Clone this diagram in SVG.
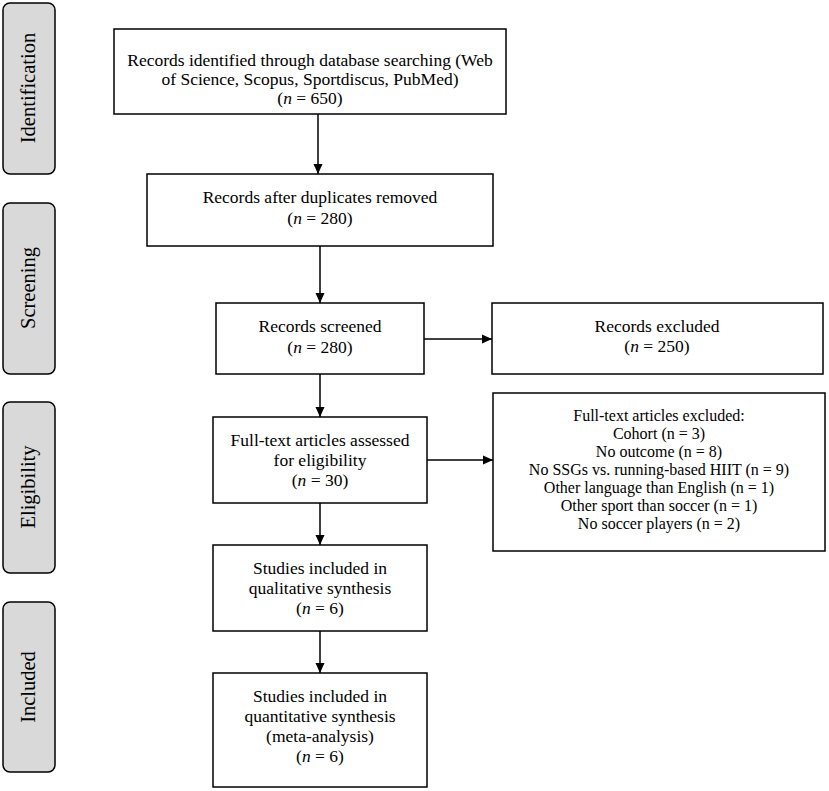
<svg xmlns="http://www.w3.org/2000/svg" width="829" height="791" viewBox="0 0 829 791">
<style>
.box{fill:#fff;stroke:#000;stroke-width:1.5}
.side{fill:#d9d9d9;stroke:#000;stroke-width:1.5}
text{font-family:"Liberation Serif","Times New Roman",serif;fill:#000;text-anchor:middle}
.t{font-size:17.5px}
.s{font-size:16px}
.lab{font-size:20.5px}
.conn line{stroke:#000;stroke-width:1.5;marker-end:url(#ah)}
</style>
<defs>
<marker id="ah" viewBox="0 0 10 10" refX="10" refY="5" markerWidth="10" markerHeight="10" markerUnits="userSpaceOnUse" orient="auto">
<path d="M0,0.5 L10,5 L0,9.5 Z" fill="#000"/>
</marker>
</defs>
<rect width="829" height="791" fill="#fff"/>
<g id="lab-identification"><rect class="side" x="3" y="3" width="52" height="171" rx="7"/><text class="lab" transform="translate(35 88) rotate(-90)">Identification</text></g>
<g id="lab-screening"><rect class="side" x="3" y="203" width="52" height="171" rx="7"/><text class="lab" transform="translate(35 288) rotate(-90)">Screening</text></g>
<g id="lab-eligibility"><rect class="side" x="3" y="402" width="52" height="171" rx="7"/><text class="lab" transform="translate(35 487) rotate(-90)">Eligibility</text></g>
<g id="lab-included"><rect class="side" x="3" y="602" width="52" height="170" rx="7"/><text class="lab" transform="translate(35 687) rotate(-90)">Included</text></g>
<g class="conn" id="connectors">
<line x1="318" y1="114" x2="318" y2="174"/>
<line x1="320" y1="246" x2="320" y2="303"/>
<line x1="320" y1="374" x2="320" y2="417"/>
<line x1="320" y1="503" x2="320" y2="545"/>
<line x1="320" y1="631" x2="320" y2="673"/>
<line x1="424" y1="339" x2="492" y2="339"/>
<line x1="427" y1="460" x2="493" y2="460"/>
</g>
<g id="n-identified"><rect class="box" x="114" y="29" width="392" height="85"/>
<text class="t" x="310" y="66">Records identified through database searching (Web</text>
<text class="t" x="310" y="85">of Science, Scopus, Sportdiscus, PubMed)</text>
<text class="t" x="310" y="104">(<tspan font-style="italic">n</tspan> = 650)</text></g>
<g id="n-dedup"><rect class="box" x="147" y="174" width="346" height="72"/>
<text class="t" x="320" y="203">Records after duplicates removed</text>
<text class="t" x="320" y="224">(<tspan font-style="italic">n</tspan> = 280)</text></g>
<g id="n-screened"><rect class="box" x="216" y="303" width="208" height="71"/>
<text class="t" x="320" y="332">Records screened</text>
<text class="t" x="320" y="353">(<tspan font-style="italic">n</tspan> = 280)</text></g>
<g id="n-excluded"><rect class="box" x="492" y="303" width="331" height="71"/>
<text class="t" x="657" y="332">Records excluded</text>
<text class="t" x="657" y="352">(<tspan font-style="italic">n</tspan> = 250)</text></g>
<g id="n-fulltext"><rect class="box" x="213" y="417" width="214" height="86"/>
<text class="t" x="320" y="446">Full-text articles assessed</text>
<text class="t" x="320" y="466">for eligibility</text>
<text class="t" x="320" y="486">(<tspan font-style="italic">n</tspan> = 30)</text></g>
<g id="n-ftexcluded"><rect class="box" x="493" y="393" width="332" height="158"/>
<text class="s" x="659" y="421">Full-text articles excluded:</text>
<text class="s" x="659" y="439">Cohort (n = 3)</text>
<text class="s" x="659" y="457">No outcome (n = 8)</text>
<text class="s" x="659" y="475">No SSGs vs. running-based HIIT (n = 9)</text>
<text class="s" x="659" y="493">Other language than English (n = 1)</text>
<text class="s" x="659" y="511">Other sport than soccer (n = 1)</text>
<text class="s" x="659" y="529">No soccer players (n = 2)</text></g>
<g id="n-qualitative"><rect class="box" x="213" y="545" width="214" height="86"/>
<text class="t" x="320" y="574">Studies included in</text>
<text class="t" x="320" y="594">qualitative synthesis</text>
<text class="t" x="320" y="614">(<tspan font-style="italic">n</tspan> = 6)</text></g>
<g id="n-quantitative"><rect class="box" x="213" y="673" width="214" height="114"/>
<text class="t" x="320" y="702">Studies included in</text>
<text class="t" x="320" y="722">quantitative synthesis</text>
<text class="t" x="320" y="742">(meta-analysis)</text>
<text class="t" x="320" y="762">(<tspan font-style="italic">n</tspan> = 6)</text></g>
</svg>
